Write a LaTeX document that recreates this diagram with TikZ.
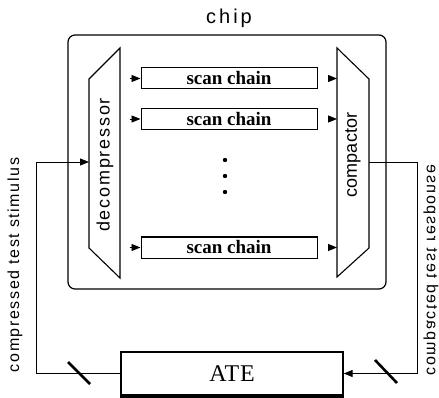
\documentclass[tikz,border=0pt]{standalone}
\usepackage{fontspec}
\setmainfont{Liberation Serif}
\newfontfamily\labfont[LetterSpace=10]{Liberation Sans}
\newfontfamily\chipfont[LetterSpace=15]{Liberation Sans}
\newfontfamily\cmpfont[LetterSpace=1]{Liberation Sans}
\newfontfamily\atefont[LetterSpace=3]{Liberation Serif}
\usetikzlibrary{arrows.meta}
\begin{document}
\begin{tikzpicture}[x=1pt,y=-1pt,
  arr/.style={-{Triangle[length=9pt,width=7pt]}, line width=0.9pt},
  chainbox/.style={draw, line width=1pt, minimum width=176pt, minimum height=21pt, inner sep=0pt, font=\bfseries\fontsize{19}{21}\selectfont},
  slash/.style={line width=2.6pt},
  block/.style={draw, line width=1.1pt},
  lab/.style={inner sep=0pt, font=\labfont\fontsize{16}{19}\selectfont},
]
\useasboundingbox (0,0) rectangle (439,398);

% chip
\node[block, line width=1.2pt, rounded corners=7pt, minimum width=318pt, minimum height=254pt, inner sep=0pt] (chip) at (227,162) {};
\node[inner sep=0pt, font=\chipfont\fontsize{20}{22}\selectfont] (chiplab) at (229,18) {chip};

% decompressor and compactor
\draw[block] (89,79) -- (120,48) -- (120,278) -- (89,248) -- cycle;
\draw[block] (337,48) -- (369,79) -- (369,248) -- (337,277) -- cycle;
\coordinate (dL) at (89,162);
\coordinate (cR) at (369,162);
\coordinate (cL) at (337,0);
\node[lab, rotate=90, font=\labfont\fontsize{18}{20}\selectfont] (declab) at (105,165) {decompressor};
\node[lab, rotate=90, font=\cmpfont\fontsize{18}{20}\selectfont] (cmplab) at (353,155) {compactor};

% scan chains
\node[chainbox] (s1) at (229,78.5) {scan chain};
\node[chainbox] (s2) at (229,119) {scan chain};
\node[chainbox] (s3) at (229,247.5) {scan chain};
\foreach \s in {s1,s2,s3}{
  \draw[arr] ([xshift=-11pt]\s.west) -- (\s.west);
  \draw[arr, shorten <=10pt] (\s.east) -- (\s.east -| cL);
}
\fill (225,160) circle (2.2pt);
\fill (225,176) circle (2.2pt);
\fill (225,192) circle (2.2pt);

% ATE
\node[block, line width=1.3pt, minimum width=222pt, minimum height=43pt, inner sep=0pt, font=\atefont\fontsize{24}{28}\selectfont] (ate) at (232,373.5) {ATE};
\draw[line width=3pt] ([yshift=-0.8pt]ate.south west) -- ([yshift=-0.8pt]ate.south east);

% loops
\coordinate (lc) at (36,162);
\coordinate (rc) at (417,162);
\draw[arr] (ate.west) -| (lc) -- (dL);
\draw[arr] (cR) -- (rc) |- (ate.east);
\draw[slash] (68,362) -- (90,384);
\draw[slash] (375,360) -- (397,383);

% labels
\node[lab, rotate=90] (inlab) at (15,265) {compressed test stimulus};
\node[lab, rotate=-90] (outlab) at (431,270) {\reflectbox{compacted test response}};
\end{tikzpicture}
\end{document}
